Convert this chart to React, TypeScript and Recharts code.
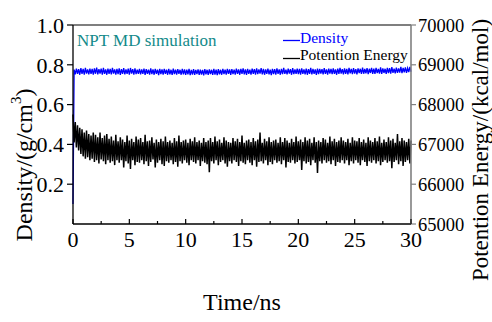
import { Legend, Line, LineChart, ReferenceLine, XAxis, YAxis } from "recharts";

const FONT = '"Liberation Serif", "Times New Roman", serif';

// simulation time in ns
const TIME = [
  0, 0.1, 0.2, 0.3, 0.4, 0.5, 0.6, 0.7, 0.8, 0.9, 1, 1.1, 1.2, 1.3, 1.4, 1.5, 1.6, 1.7, 1.8, 1.9,
  2, 2.1, 2.2, 2.3, 2.4, 2.5, 2.6, 2.7, 2.8, 2.9, 3, 3.1, 3.2, 3.3, 3.4, 3.5, 3.6, 3.7, 3.8, 3.9,
  4, 4.1, 4.2, 4.3, 4.4, 4.5, 4.6, 4.7, 4.8, 4.9, 5, 5.1, 5.2, 5.3, 5.4, 5.5, 5.6, 5.7, 5.8, 5.9,
  6, 6.1, 6.2, 6.3, 6.4, 6.5, 6.6, 6.7, 6.8, 6.9, 7, 7.1, 7.2, 7.3, 7.4, 7.5, 7.6, 7.7, 7.8, 7.9,
  8, 8.1, 8.2, 8.3, 8.4, 8.5, 8.6, 8.7, 8.8, 8.9, 9, 9.1, 9.2, 9.3, 9.4, 9.5, 9.6, 9.7, 9.8, 9.9,
  10, 10.1, 10.2, 10.3, 10.4, 10.5, 10.6, 10.7, 10.8, 10.9, 11, 11.1, 11.2, 11.3, 11.4, 11.5, 11.6, 11.7, 11.8, 11.9,
  12, 12.1, 12.2, 12.3, 12.4, 12.5, 12.6, 12.7, 12.8, 12.9, 13, 13.1, 13.2, 13.3, 13.4, 13.5, 13.6, 13.7, 13.8, 13.9,
  14, 14.1, 14.2, 14.3, 14.4, 14.5, 14.6, 14.7, 14.8, 14.9, 15, 15.1, 15.2, 15.3, 15.4, 15.5, 15.6, 15.7, 15.8, 15.9,
  16, 16.1, 16.2, 16.3, 16.4, 16.5, 16.6, 16.7, 16.8, 16.9, 17, 17.1, 17.2, 17.3, 17.4, 17.5, 17.6, 17.7, 17.8, 17.9,
  18, 18.1, 18.2, 18.3, 18.4, 18.5, 18.6, 18.7, 18.8, 18.9, 19, 19.1, 19.2, 19.3, 19.4, 19.5, 19.6, 19.7, 19.8, 19.9,
  20, 20.1, 20.2, 20.3, 20.4, 20.5, 20.6, 20.7, 20.8, 20.9, 21, 21.1, 21.2, 21.3, 21.4, 21.5, 21.6, 21.7, 21.8, 21.9,
  22, 22.1, 22.2, 22.3, 22.4, 22.5, 22.6, 22.7, 22.8, 22.9, 23, 23.1, 23.2, 23.3, 23.4, 23.5, 23.6, 23.7, 23.8, 23.9,
  24, 24.1, 24.2, 24.3, 24.4, 24.5, 24.6, 24.7, 24.8, 24.9, 25, 25.1, 25.2, 25.3, 25.4, 25.5, 25.6, 25.7, 25.8, 25.9,
  26, 26.1, 26.2, 26.3, 26.4, 26.5, 26.6, 26.7, 26.8, 26.9, 27, 27.1, 27.2, 27.3, 27.4, 27.5, 27.6, 27.7, 27.8, 27.9,
  28, 28.1, 28.2, 28.3, 28.4, 28.5, 28.6, 28.7, 28.8, 28.9, 29, 29.1, 29.2, 29.3, 29.4, 29.5, 29.6, 29.7, 29.8, 29.9,
  30,
];

// g/cm3
const DENSITY = [
  0.1, 0.776, 0.752, 0.781, 0.755, 0.778, 0.75, 0.783, 0.754, 0.779, 0.751, 0.785, 0.756, 0.777, 0.752, 0.781, 0.754, 0.779, 0.75, 0.782,
  0.755, 0.786, 0.752, 0.778, 0.756, 0.781, 0.751, 0.784, 0.754, 0.777, 0.75, 0.781, 0.755, 0.779, 0.752, 0.784, 0.756, 0.777, 0.751, 0.78,
  0.753, 0.782, 0.749, 0.778, 0.755, 0.783, 0.752, 0.777, 0.754, 0.781, 0.75, 0.784, 0.756, 0.778, 0.751, 0.782, 0.753, 0.776, 0.755, 0.78,
  0.752, 0.777, 0.754, 0.781, 0.749, 0.778, 0.755, 0.776, 0.751, 0.782, 0.753, 0.777, 0.75, 0.78, 0.754, 0.776, 0.748, 0.779, 0.753, 0.777,
  0.751, 0.78, 0.754, 0.776, 0.75, 0.779, 0.752, 0.775, 0.749, 0.781, 0.753, 0.776, 0.751, 0.778, 0.754, 0.775, 0.75, 0.78, 0.752, 0.777,
  0.749, 0.776, 0.752, 0.779, 0.748, 0.775, 0.751, 0.778, 0.75, 0.774, 0.753, 0.777, 0.749, 0.776, 0.751, 0.774, 0.747, 0.778, 0.752, 0.775,
  0.75, 0.777, 0.753, 0.775, 0.749, 0.779, 0.751, 0.776, 0.748, 0.778, 0.752, 0.775, 0.75, 0.779, 0.753, 0.776, 0.751, 0.78, 0.754, 0.777,
  0.75, 0.778, 0.753, 0.776, 0.751, 0.781, 0.754, 0.777, 0.75, 0.779, 0.755, 0.782, 0.752, 0.777, 0.749, 0.78, 0.754, 0.776, 0.751, 0.781,
  0.755, 0.778, 0.751, 0.782, 0.753, 0.777, 0.756, 0.783, 0.752, 0.779, 0.75, 0.777, 0.754, 0.781, 0.752, 0.776, 0.748, 0.78, 0.753, 0.778,
  0.751, 0.782, 0.755, 0.777, 0.75, 0.779, 0.753, 0.785, 0.754, 0.776, 0.752, 0.781, 0.756, 0.778, 0.75, 0.783, 0.753, 0.777, 0.755, 0.781,
  0.753, 0.779, 0.751, 0.782, 0.755, 0.777, 0.752, 0.781, 0.75, 0.778, 0.754, 0.784, 0.752, 0.779, 0.755, 0.777, 0.749, 0.781, 0.753, 0.779,
  0.756, 0.778, 0.752, 0.783, 0.754, 0.777, 0.751, 0.781, 0.756, 0.779, 0.753, 0.782, 0.755, 0.777, 0.75, 0.781, 0.754, 0.784, 0.756, 0.778,
  0.752, 0.782, 0.755, 0.779, 0.752, 0.785, 0.757, 0.779, 0.753, 0.783, 0.756, 0.778, 0.752, 0.782, 0.758, 0.78, 0.754, 0.786, 0.755, 0.779,
  0.757, 0.783, 0.753, 0.78, 0.759, 0.785, 0.755, 0.781, 0.754, 0.784, 0.758, 0.779, 0.756, 0.787, 0.754, 0.782, 0.759, 0.78, 0.755, 0.785,
  0.758, 0.783, 0.756, 0.788, 0.76, 0.781, 0.757, 0.786, 0.759, 0.782, 0.761, 0.79, 0.758, 0.784, 0.762, 0.787, 0.759, 0.783, 0.763, 0.789,
  0.765,
];

// kcal/mol
const ENERGY = [
  67750, 67050, 67560, 66920, 67480, 66850, 67420, 66760, 67380, 66700, 67300, 66640, 67350, 66680, 67260, 66600, 67220, 66640, 67300, 66560,
  67240, 66600, 67180, 66520, 67300, 66620, 67160, 66580, 67220, 66500, 67260, 66600, 67140, 66540, 67200, 66580, 67100, 66480, 67240, 66600,
  67080, 66540, 67180, 66600, 67120, 66420, 67060, 66580, 67220, 66520, 67100, 66380, 67140, 66600, 67060, 66480, 67200, 66560, 67120, 66540,
  67160, 66600, 67060, 66500, 67240, 66580, 67080, 66460, 67100, 66560, 67180, 66620, 67040, 66420, 67120, 66540, 67060, 66600, 67140, 66500,
  67080, 66460, 67200, 66580, 67060, 66540, 67100, 66600, 67040, 66500, 67160, 66560, 67080, 66440, 67220, 66580, 67060, 66520, 67100, 66600,
  67120, 66540, 67040, 66480, 67140, 66600, 67080, 66560, 67180, 66520, 67060, 66600, 67100, 66460, 67040, 66580, 67160, 66540, 67060, 66500,
  67100, 66300, 67160, 66580, 67060, 66520, 67200, 66600, 67080, 66480, 67120, 66560, 67040, 66600, 67180, 66520, 67100, 66440, 67060, 66580,
  67040, 66520, 67160, 66600, 67080, 66560, 67140, 66460, 67060, 66580, 67220, 66540, 67040, 66500, 67100, 66600, 67120, 66540, 67060, 66480,
  67160, 66600, 67080, 66440, 67120, 66560, 67300, 66580, 67040, 66520, 67140, 66600, 67080, 66480, 67180, 66560, 67060, 66500, 67100, 66600,
  67120, 66540, 67040, 66580, 67180, 66500, 67060, 66600, 67160, 66420, 67100, 66560, 67040, 66540, 67140, 66600, 67060, 66520, 67200, 66560,
  67080, 66600, 67120, 66360, 67060, 66580, 67180, 66520, 67100, 66560, 67140, 66480, 67040, 66600, 67180, 66540, 67060, 66280, 67100, 66580,
  67060, 66520, 67160, 66600, 67120, 66540, 67040, 66580, 67200, 66500, 67080, 66600, 67140, 66460, 67060, 66560, 67100, 66540, 67180, 66600,
  67100, 66520, 67060, 66600, 67140, 66480, 67040, 66580, 67180, 66520, 67100, 66600, 67080, 66540, 67160, 66480, 67060, 66600, 67120, 66560,
  67040, 66460, 67180, 66580, 67100, 66540, 67060, 66600, 67160, 66520, 67080, 66580, 67200, 66480, 67040, 66560, 67120, 66600, 67060, 66540,
  67180, 66580, 67100, 66400, 67140, 66560, 67040, 66600, 67260, 66500, 67080, 66580, 67160, 66460, 67100, 66560, 67060, 66600, 67140, 66520,
  67100,
];

const X_TICKS = [0, 2.5, 5, 7.5, 10, 12.5, 15, 17.5, 20, 22.5, 25, 27.5, 30];
const LEFT_TICKS = [0.2, 0.4, 0.6, 0.8, 1.0];
const RIGHT_TICKS = [65000, 66000, 67000, 68000, 69000, 70000];

const data = TIME.map((t, i) => ({ t, density: DENSITY[i], energy: ENERGY[i] }));

const XTick = (props: any) => {
  const { x, y, payload } = props;
  const major = payload.value % 5 === 0;
  return (
    <g>
      <line x1={x} x2={x} y1={y} y2={y - (major ? 5 : 3)} stroke="#000" strokeWidth={1.2} />
      {major && (
        <text x={x} y={y + 23} textAnchor="middle" fontSize={22} fontFamily="Liberation Serif" fill="#000">
          {payload.value}
        </text>
      )}
    </g>
  );
};

const leftTitle = () => (
  <text
    x={24}
    y={165}
    transform="rotate(-90 24 165)"
    textAnchor="middle"
    dominantBaseline="central"
    fontSize={24}
    fontFamily="Liberation Serif"
    fill="#000"
  >
    Density/(g/cm<tspan fontSize={15} dy={-8}>3</tspan>
    <tspan dy={8}>)</tspan>
  </text>
);

const rightTitle = () => (
  <text
    x={480}
    y={150}
    transform="rotate(-90 480 150)"
    textAnchor="middle"
    dominantBaseline="central"
    fontSize={23}
    fontFamily="Liberation Serif"
    fill="#000"
  >
    Potention Energy/(kcal/mol)
  </text>
);

const LegendBox = (props: any) => {
  const { payload = [] } = props;
  return (
    <svg width={130} height={40} style={{ display: "block" }}>
      {payload.map((entry: any, i: number) => (
        <g key={entry.value}>
          <line x1={1} x2={18} y1={15.5 + i * 18} y2={15.5 + i * 18} stroke={entry.color} strokeWidth={1.3} />
          <text x={18} y={17.5 + i * 17.5} fontSize={15.5} fontFamily="Liberation Serif" fill={entry.color}>
            {entry.value}
          </text>
        </g>
      ))}
    </svg>
  );
};

const App = () => {
  return (
    <div
      style={{
        position: "absolute",
        left: 0,
        top: 0,
        width: 492,
        height: 322,
        background: "#fff",
        fontFamily: FONT,
      }}
    >
      <LineChart width={492} height={322} data={data} margin={{ top: 25, right: 0, bottom: 49, left: 0 }}>
        <XAxis
          dataKey="t"
          type="number"
          domain={[0, 30]}
          ticks={X_TICKS}
          interval={0}
          height={49}
          tickSize={0}
          tickMargin={0}
          tickLine={false}
          axisLine={{ stroke: "#000", strokeWidth: 1.3 }}
          tick={<XTick />}
          label={() => (
            <text x={242} y={310} textAnchor="middle" fontSize={24} fontFamily="Liberation Serif" fill="#000">
              Time/ns
            </text>
          )}
        />
        <YAxis
          yAxisId="left"
          orientation="left"
          domain={[0, 1]}
          ticks={LEFT_TICKS}
          width={73}
          tickSize={6}
          tickMargin={3}
          tickFormatter={(v: number) => v.toFixed(1)}
          tick={{ fill: "#000", fontSize: 22, fontFamily: "Liberation Serif" }}
          axisLine={{ stroke: "#000", strokeWidth: 1.3 }}
          tickLine={{ stroke: "#000", strokeWidth: 1.2 }}
          label={leftTitle}
        />
        <YAxis
          yAxisId="right"
          orientation="right"
          domain={[65000, 70000]}
          ticks={RIGHT_TICKS}
          width={81}
          tickSize={5}
          tickMargin={2}
          tick={{ fill: "#000", fontSize: 18.5, fontFamily: "Liberation Serif" }}
          axisLine={{ stroke: "#808080", strokeWidth: 1.6 }}
          tickLine={{ stroke: "#808080", strokeWidth: 1.2 }}
          label={rightTitle}
        />
        <ReferenceLine yAxisId="left" y={1} stroke="#000" strokeWidth={1.2} />
        <Line
          yAxisId="left"
          dataKey="density"
          name="Density"
          stroke="#0000ff"
          strokeWidth={1.3}
          dot={false}
          isAnimationActive={false}
        />
        <Line
          yAxisId="right"
          dataKey="energy"
          name="Potention Energy"
          stroke="#000000"
          strokeWidth={1.5}
          dot={false}
          isAnimationActive={false}
        />
        <Legend
          layout="vertical"
          align="center"
          verticalAlign="middle"
          content={<LegendBox />}
          wrapperStyle={{ left: 282, top: 25, width: 130, height: 40 }}
        />
      </LineChart>
      <div
        style={{
          position: "absolute",
          left: 77,
          top: 31,
          fontFamily: FONT,
          fontSize: 17,
          lineHeight: "20px",
          color: "#138a8a",
          whiteSpace: "nowrap",
        }}
      >
        NPT MD simulation
      </div>
    </div>
  );
};

export default App;
